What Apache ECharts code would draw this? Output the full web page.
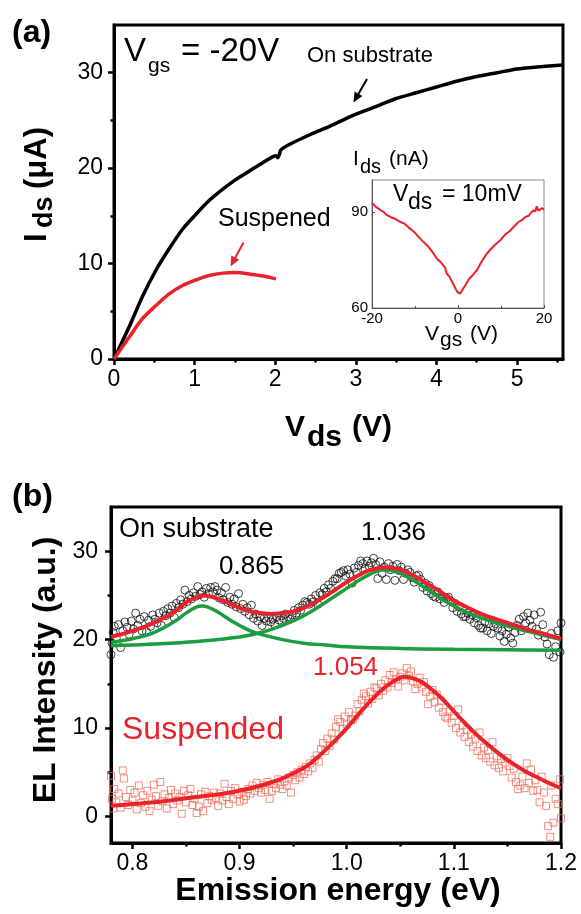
<!DOCTYPE html>
<html>
<head>
<meta charset="utf-8">
<script src="https://cdn.jsdelivr.net/npm/echarts@6/dist/echarts.min.js"></script>
<style>html,body{margin:0;padding:0;background:#fff}#c{width:581px;height:914px}</style>
</head>
<body>
<div id="c"></div>
<script>
// ---------- Panel (a): Ids vs Vds at Vgs=-20V ----------
const onSubV = [0, 0.02, 0.19, 0.35, 0.52, 0.68, 0.85, 1.02, 1.18, 1.35, 1.51, 1.68, 1.85, 2.01, 2.03, 2.05, 2.07, 2.18, 2.43, 2.68, 2.93, 3.2, 3.5, 3.75, 4.0, 4.25, 4.5, 4.75, 5.0, 5.25, 5.57];
const onSubI = [0, 0.35, 3.4, 6.5, 9.3, 11.5, 13.6, 15.2, 16.6, 17.8, 18.8, 19.7, 20.6, 21.3, 21.1, 21.4, 21.9, 22.5, 23.5, 24.4, 25.4, 26.3, 27.3, 27.9, 28.5, 29.1, 29.6, 30.0, 30.4, 30.6, 30.8];
const susV = [0, 0.19, 0.35, 0.52, 0.68, 0.85, 1.02, 1.18, 1.35, 1.51, 1.68, 1.85, 2.01];
const susI = [0, 2.3, 4.2, 5.6, 6.8, 7.7, 8.3, 8.75, 9.0, 9.06, 8.9, 8.7, 8.4];
const aTicksX = [0, 1, 2, 3, 4, 5];
const aMinorX = [0.5, 1.5, 2.5, 3.5, 4.5, 5.5];
const aTicksY = [0, 10, 20, 30];
const aMinorY = [5, 15, 25];

// ---------- Inset: Ids vs Vgs at Vds=10mV ----------
const gateV = [-20,-19,-18,-17.3,-16.5,-15.5,-14.5,-13.4,-12.5,-11.5,-10.7,-10,-9,-8,-7,-6,-4.9,-4,-3,-2.6,-2,-1,-0.5,0,0.5,1,1.7,2.5,3.5,4.4,5.5,6.7,7.5,8.5,9.8,11,12,12.9,14,15,15.6,16.5,17,17.5,18,18.3,18.7,19.1,19.5,20];
const idsNA = [92.8,91.5,90.6,90.0,89.0,88.3,87.8,86.9,86.4,85.2,84.3,83.5,82.0,80.6,79.3,77.6,75.4,74.3,72.6,70.7,69.8,67.2,65.8,64.8,64.5,65.6,67.1,68.9,70.4,71.8,74.5,77.0,78.2,79.6,81.1,83.0,84.0,85.3,86.8,87.6,88.4,88.9,89.8,90.5,90.2,91.8,90.4,90.8,91.2,90.7];
const insetTicksX = [-20, 0, 20];
const insetMinorX = [-10, 10];
const insetTicksY = [60, 90];

// ---------- Panel (b): EL spectra ----------
const bTicksX = [0.8, 0.9, 1.0, 1.1, 1.2];
const bMinorX = [0.85, 0.95, 1.05, 1.15];
const bTicksY = [0, 10, 20, 30];
const bMinorY = [5, 15, 25];

const substratePts = [[0.780,18.3],[0.781,19.6],[0.782,20.8],[0.783,21.5],[0.785,20.2],[0.787,21.7],[0.789,19.1],[0.791,21.0],[0.793,22.0],[0.795,21.4],[0.797,20.6],[0.799,22.1],[0.801,21.2],[0.803,23.0],[0.805,21.6],[0.807,22.3],[0.809,21.0],[0.811,22.6],[0.813,20.9],[0.815,22.2],[0.817,21.5],[0.819,22.8],[0.821,22.3],[0.823,21.9],[0.825,23.0],[0.827,21.6],[0.829,23.2],[0.831,22.7],[0.833,23.5],[0.835,23.0],[0.837,23.8],[0.839,22.5],[0.841,24.1],[0.843,23.6],[0.845,24.5],[0.847,24.0],[0.849,25.6],[0.851,24.3],[0.853,25.0],[0.855,24.6],[0.857,25.3],[0.859,24.9],[0.861,26.0],[0.863,25.1],[0.865,25.4],[0.867,24.8],[0.869,25.8],[0.871,25.2],[0.873,25.9],[0.875,25.4],[0.877,26.0],[0.879,25.6],[0.881,24.7],[0.883,25.3],[0.885,24.5],[0.887,25.9],[0.889,24.2],[0.891,24.8],[0.893,24.0],[0.895,24.6],[0.897,23.7],[0.899,25.2],[0.901,23.5],[0.903,24.0],[0.905,23.2],[0.907,23.6],[0.909,22.8],[0.911,23.9],[0.913,22.4],[0.915,22.9],[0.917,22.1],[0.919,22.6],[0.921,21.6],[0.923,22.4],[0.925,22.1],[0.927,22.5],[0.929,22.0],[0.931,22.3],[0.933,21.7],[0.935,22.6],[0.937,22.2],[0.939,22.7],[0.941,22.4],[0.943,22.9],[0.945,22.6],[0.947,22.3],[0.949,22.8],[0.951,23.3],[0.953,23.0],[0.955,23.6],[0.957,23.3],[0.959,23.9],[0.961,24.3],[0.963,24.2],[0.965,24.0],[0.967,24.6],[0.969,24.3],[0.971,25.0],[0.973,24.0],[0.975,25.3],[0.977,25.1],[0.979,25.8],[0.981,25.4],[0.983,26.2],[0.985,25.8],[0.987,26.6],[0.989,26.9],[0.991,26.9],[0.993,27.5],[0.995,27.6],[0.997,27.8],[0.999,27.2],[1.001,27.9],[1.003,27.4],[1.005,26.4],[1.007,28.1],[1.009,27.6],[1.011,28.4],[1.013,28.9],[1.015,28.6],[1.017,28.0],[1.019,28.9],[1.021,28.3],[1.023,28.7],[1.025,29.2],[1.027,28.5],[1.029,26.9],[1.031,28.8],[1.033,27.5],[1.035,28.2],[1.037,26.8],[1.039,28.6],[1.041,27.9],[1.043,28.3],[1.045,26.7],[1.047,28.5],[1.049,27.8],[1.051,28.2],[1.053,26.8],[1.055,27.5],[1.057,27.9],[1.059,27.6],[1.061,27.0],[1.063,26.5],[1.065,27.2],[1.067,27.3],[1.069,26.8],[1.071,25.9],[1.073,26.4],[1.075,25.5],[1.077,26.1],[1.079,25.2],[1.081,24.9],[1.083,24.8],[1.085,25.4],[1.087,24.6],[1.089,24.9],[1.091,24.2],[1.093,24.7],[1.095,24.8],[1.097,24.4],[1.099,23.6],[1.101,24.1],[1.103,23.2],[1.105,23.7],[1.107,22.9],[1.109,22.6],[1.111,22.6],[1.113,23.0],[1.115,22.3],[1.117,22.8],[1.119,21.9],[1.121,22.5],[1.123,21.6],[1.125,21.3],[1.127,21.3],[1.129,22.0],[1.131,21.0],[1.133,21.8],[1.135,20.7],[1.137,21.5],[1.139,21.8],[1.141,21.3],[1.143,20.4],[1.145,21.0],[1.147,19.8],[1.149,20.6],[1.151,21.4],[1.153,20.2],[1.155,19.6],[1.157,20.8],[1.159,21.6],[1.161,22.3],[1.163,21.0],[1.165,22.6],[1.167,21.9],[1.169,23.0],[1.171,22.2],[1.173,21.5],[1.175,22.8],[1.177,21.2],[1.179,20.5],[1.181,23.1],[1.183,21.7],[1.185,20.3],[1.187,19.5],[1.189,18.3],[1.191,20.7],[1.193,18.0],[1.195,19.2],[1.197,21.0],[1.199,18.6],[1.200,21.9]];

const suspendedPts = [[0.780,4.6],[0.781,2.0],[0.782,0.9],[0.783,3.1],[0.785,1.6],[0.787,2.6],[0.789,1.0],[0.791,5.2],[0.792,4.3],[0.794,2.2],[0.796,1.3],[0.798,3.0],[0.800,1.8],[0.802,2.7],[0.804,0.8],[0.806,3.5],[0.808,1.5],[0.810,2.4],[0.812,1.1],[0.814,2.9],[0.816,0.6],[0.818,1.9],[0.820,3.6],[0.822,2.3],[0.824,1.2],[0.826,3.9],[0.828,1.7],[0.830,2.5],[0.832,0.9],[0.834,2.1],[0.836,3.0],[0.838,1.4],[0.840,2.6],[0.842,1.8],[0.844,2.2],[0.846,0.3],[0.848,2.9],[0.850,1.6],[0.852,2.4],[0.854,3.1],[0.856,1.3],[0.858,2.0],[0.860,0.4],[0.862,1.1],[0.864,2.5],[0.866,0.6],[0.868,2.8],[0.870,1.5],[0.872,2.3],[0.874,1.9],[0.876,2.7],[0.878,2.1],[0.880,1.2],[0.882,2.6],[0.884,1.8],[0.886,3.7],[0.888,2.2],[0.890,1.4],[0.892,2.9],[0.894,2.0],[0.896,3.2],[0.898,2.5],[0.900,1.7],[0.902,2.8],[0.904,1.9],[0.906,2.3],[0.908,3.1],[0.910,2.6],[0.912,3.5],[0.914,2.9],[0.916,3.8],[0.918,3.2],[0.920,2.7],[0.922,3.6],[0.924,3.0],[0.926,3.9],[0.928,2.0],[0.930,2.9],[0.932,3.7],[0.934,3.2],[0.936,4.2],[0.938,3.6],[0.940,3.1],[0.942,4.0],[0.944,3.5],[0.946,4.4],[0.948,2.7],[0.950,4.7],[0.952,4.1],[0.954,5.0],[0.956,4.4],[0.958,5.3],[0.960,4.8],[0.962,5.6],[0.964,5.1],[0.966,6.0],[0.968,5.5],[0.970,6.4],[0.972,6.9],[0.974,6.2],[0.976,7.6],[0.978,8.3],[0.980,7.4],[0.982,8.8],[0.984,8.0],[0.986,9.4],[0.988,8.7],[0.990,10.1],[0.992,11.0],[0.994,10.7],[0.996,9.9],[0.998,11.3],[1.000,10.4],[1.002,11.8],[1.004,10.9],[1.006,11.0],[1.008,11.4],[1.010,12.7],[1.012,11.9],[1.014,13.2],[1.016,13.9],[1.018,13.6],[1.020,12.8],[1.022,14.1],[1.024,13.3],[1.026,14.6],[1.028,14.5],[1.030,13.7],[1.032,15.0],[1.034,14.2],[1.036,15.4],[1.038,14.6],[1.040,16.0],[1.042,15.1],[1.044,16.3],[1.046,15.5],[1.048,14.7],[1.050,15.8],[1.052,16.2],[1.054,15.4],[1.056,16.8],[1.058,15.9],[1.060,16.4],[1.062,15.3],[1.064,14.4],[1.066,15.0],[1.068,15.7],[1.070,14.6],[1.072,15.2],[1.074,14.1],[1.076,12.7],[1.078,13.6],[1.080,14.3],[1.082,12.9],[1.084,13.8],[1.086,12.3],[1.088,13.1],[1.090,11.8],[1.092,11.3],[1.094,11.1],[1.096,11.9],[1.098,10.6],[1.100,11.4],[1.102,10.0],[1.104,12.1],[1.106,9.5],[1.108,10.3],[1.110,9.0],[1.112,9.8],[1.114,8.4],[1.116,9.3],[1.118,7.9],[1.120,8.8],[1.122,7.4],[1.124,9.5],[1.126,6.9],[1.128,7.8],[1.130,6.6],[1.132,7.5],[1.134,6.2],[1.136,8.4],[1.138,5.8],[1.140,6.8],[1.142,5.5],[1.144,6.5],[1.146,5.1],[1.148,6.1],[1.150,6.6],[1.152,5.7],[1.154,4.4],[1.156,5.4],[1.158,3.9],[1.160,3.1],[1.162,3.5],[1.164,4.5],[1.166,3.2],[1.168,6.0],[1.170,3.8],[1.172,5.3],[1.174,2.9],[1.176,4.1],[1.178,3.0],[1.180,1.6],[1.182,4.5],[1.184,2.7],[1.186,1.2],[1.188,-1.1],[1.190,-2.3],[1.191,3.5],[1.193,-0.7],[1.195,2.0],[1.197,1.4],[1.199,4.2],[1.200,-0.2]];

const fitTotE = [0.78,0.80,0.82,0.84,0.85,0.86,0.865,0.87,0.88,0.89,0.90,0.91,0.92,0.93,0.94,0.95,0.96,0.97,0.98,0.99,1.00,1.01,1.02,1.03,1.036,1.04,1.05,1.06,1.07,1.08,1.09,1.10,1.11,1.12,1.13,1.14,1.15,1.16,1.17,1.18,1.19,1.20];
const fitTotI = [20.3,21.0,21.9,23.2,24.2,24.8,25.0,24.95,24.6,24.1,23.6,23.2,23.0,22.9,23.0,23.2,23.6,24.2,24.9,25.7,26.5,27.2,27.8,28.1,28.2,28.15,27.9,27.4,26.7,26.0,25.2,24.4,23.8,23.2,22.7,22.3,21.9,21.5,21.1,20.8,20.45,20.1];
const peak1E = [0.78,0.80,0.82,0.84,0.85,0.86,0.865,0.87,0.88,0.89,0.90,0.91,0.92,0.94,0.96,0.98,1.00,1.05,1.10,1.15,1.20];
const peak1I = [19.7,20.1,20.8,22.1,23.0,23.7,23.8,23.7,23.1,22.3,21.6,21.0,20.6,20.0,19.6,19.4,19.2,19.0,18.9,18.85,18.8];
const peak2E = [0.78,0.82,0.86,0.90,0.92,0.94,0.96,0.98,1.00,1.01,1.02,1.03,1.036,1.04,1.05,1.06,1.07,1.08,1.09,1.10,1.12,1.14,1.16,1.18,1.20];
const peak2I = [19.3,19.5,19.8,20.3,20.8,21.6,22.7,24.2,25.8,26.6,27.3,27.8,27.9,27.85,27.5,26.9,26.1,25.3,24.5,23.8,22.7,21.9,21.2,20.6,20.0];
const fitSusE = [0.78,0.80,0.82,0.84,0.86,0.88,0.90,0.92,0.94,0.96,0.97,0.98,0.99,1.00,1.01,1.02,1.03,1.04,1.05,1.054,1.06,1.07,1.08,1.09,1.10,1.11,1.12,1.13,1.14,1.15,1.16,1.17,1.18,1.19,1.20];
const fitSusI = [1.2,1.4,1.6,1.9,2.2,2.5,2.9,3.5,4.3,5.5,6.4,7.5,8.7,10.0,11.4,12.8,14.0,15.0,15.7,15.8,15.7,15.2,14.3,13.2,11.9,10.6,9.4,8.3,7.3,6.4,5.6,4.9,4.3,3.7,3.2];

// ---------- helpers ----------
const FF = "'Liberation Sans', Arial, Helvetica, sans-serif";
const zip = (xs, ys) => xs.map((x, i) => [x, ys[i]]);
const RED = '#e8232b', GREEN = '#1c9d3f', SQ = '#f2705f';

function mainAxis(dim, grid, min, max, ticks, opt) {
  return {
    type: 'value', gridIndex: grid, min: min, max: max,
    position: dim === 'x' ? 'bottom' : 'left',
    axisLine: { show: true, onZero: false, lineStyle: { color: opt.lineColor || '#000', width: opt.lineWidth || 3 } },
    axisTick: { show: true, inside: !!opt.inside, length: opt.tickLen || 6, customValues: ticks, lineStyle: { color: opt.lineColor || '#000', width: opt.tickWidth || 2.5 } },
    axisLabel: { show: true, customValues: ticks, margin: opt.margin, fontSize: opt.fontSize, fontFamily: FF, color: '#000',
      formatter: opt.fmt || (v => String(v)) },
    splitLine: { show: false }
  };
}
function minorAxis(dim, grid, min, max, ticks, opt) {
  return {
    type: 'value', gridIndex: grid, min: min, max: max,
    position: dim === 'x' ? 'bottom' : 'left',
    axisLine: { show: false, onZero: false },
    axisTick: { show: true, inside: !!opt.inside, length: opt.tickLen || 3.5, customValues: ticks, lineStyle: { color: opt.lineColor || '#000', width: opt.tickWidth || 2.5 } },
    axisLabel: { show: false },
    splitLine: { show: false }
  };
}
function T(str, x, base, size, o) {
  o = o || {};
  const align = o.align || 'left';
  const rot = o.rot || 0;
  let px = x, py = base - 0.35 * size;
  if (rot) { px = base - 0.35 * size; py = x; }
  return {
    type: 'text', x: px, y: py, rotation: rot, z: 100, silent: true,
    style: { text: str, fontSize: size, fontFamily: FF, fontWeight: o.bold ? 'bold' : 'normal',
      fill: o.color || '#000', textAlign: align, align: align, textVerticalAlign: 'middle', verticalAlign: 'middle' }
  };
}
function arrow(x1, y1, x2, y2, color) {
  const dx = x2 - x1, dy = y2 - y1, L = Math.hypot(dx, dy);
  const ux = dx / L, uy = dy / L, nx = -uy, ny = ux;
  const hl = 10, hw = 4.5;
  const bx = x2 - ux * hl, by = y2 - uy * hl;
  return [
    { type: 'line', z: 100, silent: true, shape: { x1: x1, y1: y1, x2: bx + ux * 2, y2: by + uy * 2 }, style: { stroke: color, lineWidth: 2 } },
    { type: 'polygon', z: 100, silent: true, shape: { points: [[x2, y2], [bx + nx * hw, by + ny * hw], [bx - nx * hw, by - ny * hw]] }, style: { fill: color } }
  ];
}

const chart = echarts.init(document.getElementById('c'), null, { renderer: 'canvas' });

const option = {
  animation: false,
  backgroundColor: '#fff',
  grid: [
    { left: 114, top: 25, width: 449, height: 334, show: true, borderColor: '#000', borderWidth: 3, backgroundColor: 'transparent', containLabel: false, outerBoundsMode: 'none' },
    { left: 111, top: 507, width: 450, height: 336, show: true, borderColor: '#000', borderWidth: 3, backgroundColor: 'transparent', containLabel: false, outerBoundsMode: 'none' },
    { left: 372, top: 180, width: 172, height: 128, show: true, borderColor: '#8a8a8a', borderWidth: 1, backgroundColor: 'transparent', containLabel: false, outerBoundsMode: 'none' }
  ],
  xAxis: [
    mainAxis('x', 0, 0, 5.57, aTicksX, { margin: 9, fontSize: 23 }),
    minorAxis('x', 0, 0, 5.57, aMinorX, {}),
    mainAxis('x', 1, 0.78, 1.2, bTicksX, { margin: 9, fontSize: 23, fmt: v => v.toFixed(1) }),
    minorAxis('x', 1, 0.78, 1.2, bMinorX, {}),
    mainAxis('x', 2, -20, 20, insetTicksX, { margin: 3, fontSize: 15, inside: true, tickLen: 3, tickWidth: 1, lineWidth: 1, lineColor: '#555' }),
    minorAxis('x', 2, -20, 20, insetMinorX, { inside: true, tickLen: 2, tickWidth: 1, lineColor: '#555' })
  ],
  yAxis: [
    mainAxis('y', 0, 0, 35, aTicksY, { margin: 11, fontSize: 23 }),
    minorAxis('y', 0, 0, 35, aMinorY, {}),
    mainAxis('y', 1, -3, 35, bTicksY, { margin: 13, fontSize: 23 }),
    minorAxis('y', 1, -3, 35, bMinorY, {}),
    mainAxis('y', 2, 60, 100, insetTicksY, { margin: 4, fontSize: 15, inside: true, tickLen: 3, tickWidth: 1, lineWidth: 1, lineColor: '#555' })
  ],
  series: [
    { name: 'On substrate', type: 'line', xAxisIndex: 0, yAxisIndex: 0, data: zip(onSubV, onSubI), showSymbol: false, smooth: 0.25,
      lineStyle: { color: '#000', width: 3.5 }, z: 5 },
    { name: 'Suspened', type: 'line', xAxisIndex: 0, yAxisIndex: 0, data: zip(susV, susI), showSymbol: false, smooth: 0.3,
      lineStyle: { color: RED, width: 3.5 }, z: 5 },
    { name: 'Substrate EL', type: 'scatter', xAxisIndex: 2, yAxisIndex: 2, data: substratePts, symbol: 'circle', symbolSize: 8,
      itemStyle: { color: 'rgba(0,0,0,0)', borderColor: '#111', borderWidth: 1 }, z: 2 },
    { name: 'Suspended EL', type: 'scatter', xAxisIndex: 2, yAxisIndex: 2, data: suspendedPts, symbol: 'rect', symbolSize: 7,
      itemStyle: { color: 'rgba(0,0,0,0)', borderColor: SQ, borderWidth: 1 }, clip: true, z: 2 },
    { name: 'Peak 0.865', type: 'line', xAxisIndex: 2, yAxisIndex: 2, data: zip(peak1E, peak1I), showSymbol: false, smooth: 0.4,
      lineStyle: { color: GREEN, width: 3.5 }, z: 3 },
    { name: 'Peak 1.036', type: 'line', xAxisIndex: 2, yAxisIndex: 2, data: zip(peak2E, peak2I), showSymbol: false, smooth: 0.4,
      lineStyle: { color: GREEN, width: 3.5 }, z: 3 },
    { name: 'Fit substrate', type: 'line', xAxisIndex: 2, yAxisIndex: 2, data: zip(fitTotE, fitTotI), showSymbol: false, smooth: 0.4,
      lineStyle: { color: RED, width: 4 }, z: 4 },
    { name: 'Fit suspended', type: 'line', xAxisIndex: 2, yAxisIndex: 2, data: zip(fitSusE, fitSusI), showSymbol: false, smooth: 0.4,
      lineStyle: { color: RED, width: 4 }, z: 4 },
    { name: 'Inset', type: 'line', xAxisIndex: 4, yAxisIndex: 4, data: zip(gateV, idsNA), showSymbol: false,
      lineStyle: { color: RED, width: 2 }, z: 5 }
  ],
  graphic: [
    T('(a)', 12, 44, 32, { bold: true }),
    T('(b)', 12, 508, 32, { bold: true }),
    T('I', 242, 48, 31, { bold: true, rot: Math.PI / 2 }),
    T('ds', 228, 54, 27, { bold: true, rot: Math.PI / 2 }),
    T('(μA)', 189, 48, 31, { bold: true, rot: Math.PI / 2 }),
    T('V', 285, 438, 30, { bold: true }),
    T('ds', 307, 448, 30, { bold: true }),
    T('(V)', 352, 438, 30, { bold: true }),
    T('V', 124, 63, 33),
    T('gs', 148, 74, 21),
    T('= -20V', 181, 63, 33),
    T('On substrate', 307, 64, 22),
    T('Suspened', 218, 228, 25),
    ...arrow(367, 79, 353.5, 102.5, '#000'),
    ...arrow(243.5, 242.5, 230.5, 266.5, RED),
    T('I', 353, 167, 21),
    T('ds', 360, 174, 20),
    T('(nA)', 389, 167, 21),
    T('V', 393, 203, 23),
    T('ds', 408, 211, 23),
    T('= 10mV', 442, 203, 23),
    T('V', 425, 342, 21),
    T('gs', 440, 348, 21),
    T('(V)', 470, 342, 21),
    T('EL Intensity (a.u.)', 670, 57, 32, { bold: true, rot: Math.PI / 2, align: 'center' }),
    T('Emission energy (eV)', 338, 902, 32, { bold: true, align: 'center' }),
    T('On substrate', 119, 539, 27),
    T('0.865', 219, 576, 26),
    T('1.036', 361, 542, 26),
    T('1.054', 313, 677, 26, { color: RED }),
    T('Suspended', 122, 741, 32, { color: RED })
  ]
};
chart.setOption(option);
</script>
</body>
</html>
